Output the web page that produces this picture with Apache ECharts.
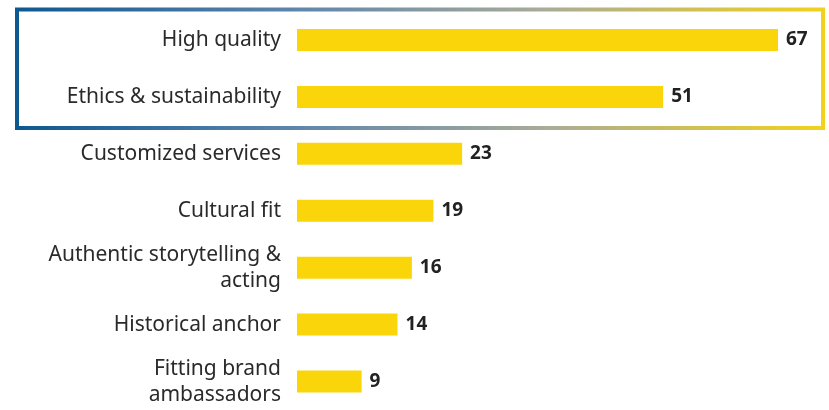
<!DOCTYPE html>
<html><head><meta charset="utf-8">
<script src="https://cdn.jsdelivr.net/npm/echarts@6/dist/echarts.min.js"></script>
<style>html,body{margin:0;padding:0;background:#fff}#c{width:829px;height:410px}</style>
</head><body><div id="c"></div>
<script>
const categories = ["High quality","Ethics & sustainability","Customized services","Cultural fit","Authentic storytelling &\nacting","Historical anchor","Fitting brand\nambassadors"];
const values = [67,51,23,19,16,14,9];

const chart = echarts.init(document.getElementById('c'));
chart.setOption({
  animation:false,
  grid:{left:297,top:11.5,width:481,bottom:-3},
  xAxis:{type:'value',min:0,max:67,show:false},
  yAxis:{type:'category',data:categories,inverse:true,
    axisLine:{show:false},axisTick:{show:false},
    axisLabel:{margin:16,fontFamily:'Noto Sans',fontSize:21,color:'#2a2a2a',lineHeight:26,align:'right'}},
  series:[{type:'bar',data:values,barWidth:22,itemStyle:{color:'#F9D50A'},
    label:{show:true,position:'right',distance:8,fontFamily:'Noto Sans',fontWeight:'bold',fontSize:19,color:'#222'}}],
  graphic:[{type:'rect',shape:{x:17,y:9.5,width:806,height:118.5},
    style:{fill:'none',lineWidth:4,stroke:new echarts.graphic.LinearGradient(0,0,1,0,[
      {offset:0,color:'#0d5891'},{offset:0.35,color:'#5f86ac'},{offset:0.65,color:'#a8ab98'},{offset:1,color:'#f2d21a'}])},z:10}]
});
</script></body></html>
